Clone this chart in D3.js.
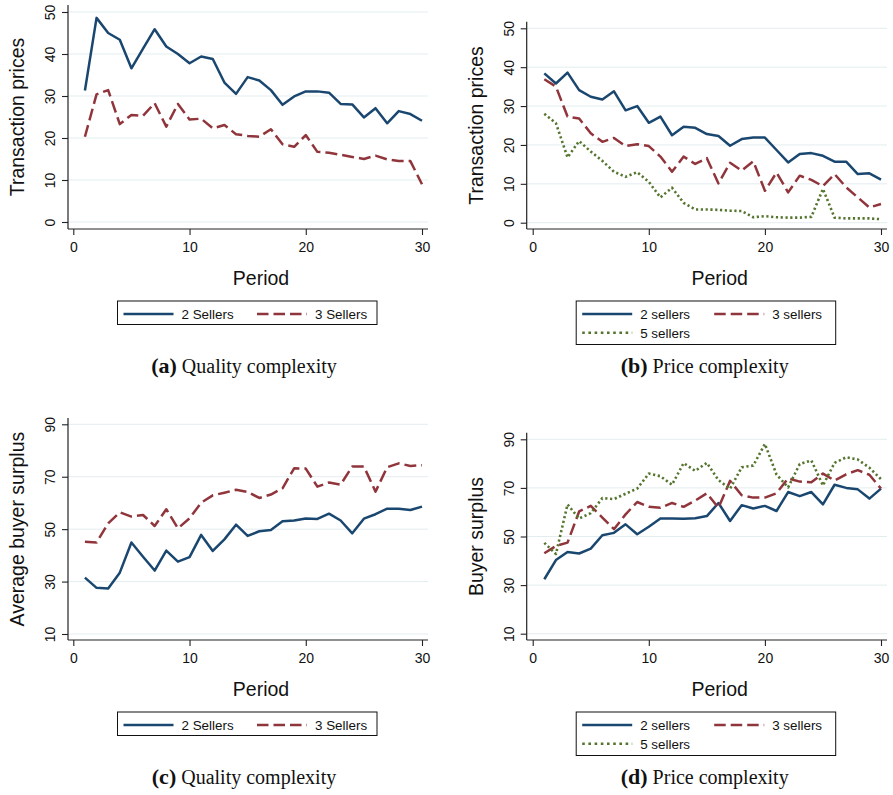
<!DOCTYPE html>
<html>
<head>
<meta charset="utf-8">
<script src="https://cdn.jsdelivr.net/npm/d3@7"></script>
<style>
  html, body { margin: 0; padding: 0; background: #fff; }
  svg { display: block; }
</style>
</head>
<body>
<svg id="chart" width="893" height="795"></svg>
<script>
// ---------------- data ----------------
const periods = [1,2,3,4,5,6,7,8,9,10,11,12,13,14,15,16,17,18,19,20,21,22,23,24,25,26,27,28,29,30];

const aPrice2 = [31.3,48.6,45.0,43.4,36.6,41.3,45.9,41.8,40.0,37.8,39.4,38.8,33.2,30.5,34.5,33.7,31.4,27.9,29.9,31.1,31.1,30.8,28.1,28.0,24.9,27.1,23.5,26.4,25.7,24.1];
const aPrice3 = [20.3,30.4,31.4,23.3,25.5,25.3,28.3,22.7,28.1,24.4,24.6,22.3,23.1,20.9,20.5,20.3,22.1,18.5,17.9,20.7,16.7,16.5,16.0,15.5,15.0,15.8,14.9,14.5,14.5,9.0];

const bPrice2 = [38.4,35.8,38.6,34.1,32.4,31.7,33.8,28.9,30.0,25.7,27.3,22.5,24.7,24.4,22.8,22.3,19.8,21.5,21.9,21.9,18.7,15.5,17.7,17.9,17.2,15.7,15.7,12.5,12.7,11.1];
const bPrice3 = [36.9,35.0,27.3,26.8,23.0,20.8,21.8,19.7,20.2,19.7,17.0,13.1,17.0,15.1,16.6,10.1,15.4,13.4,15.8,8.2,12.9,7.8,12.1,11.0,9.4,12.5,9.1,6.5,3.9,4.8];
const bPrice5 = [28.0,25.6,16.8,21.0,18.3,15.9,13.1,11.8,13.0,10.5,6.5,9.0,5.1,3.4,3.4,3.3,3.1,3.0,1.4,1.7,1.4,1.3,1.3,1.5,8.7,1.3,1.1,1.1,1.1,0.9];

const cSurplus2 = [31.5,27.6,27.4,33.4,44.9,39.5,34.2,41.8,37.6,39.3,47.8,41.7,46.1,51.7,47.4,49.2,49.7,53.0,53.3,54.1,53.9,55.9,53.3,48.4,54.0,55.7,57.8,57.8,57.3,58.6];
const cSurplus3 = [45.2,44.9,52.2,56.4,54.8,55.4,51.2,57.6,50.3,54.1,60.1,62.9,63.9,65.0,64.2,61.9,63.2,65.6,73.2,73.1,66.2,67.8,67.0,73.9,73.9,64.3,73.6,75.1,74.1,74.4];

const dSurplus2 = [32.4,40.3,43.6,43.0,45.0,50.5,51.5,55.0,50.9,54.0,57.4,57.4,57.3,57.5,58.4,63.8,56.4,62.9,61.5,62.6,60.5,68.3,66.6,68.3,63.2,71.3,70.0,69.4,65.6,69.7];
const dSurplus3 = [43.1,46.1,47.5,60.3,62.6,57.8,53.0,59.1,64.2,62.2,61.8,63.8,62.2,64.8,67.8,61.8,72.9,67.0,66.0,66.0,67.8,73.9,72.6,72.3,75.9,73.0,75.6,77.3,75.4,69.7];
const dSurplus5 = [47.4,42.8,63.2,57.4,59.6,65.8,65.4,67.6,69.7,75.9,74.8,71.3,80.2,77.0,80.3,73.2,69.6,78.5,79.2,88.1,75.5,70.2,79.8,81.3,71.0,80.3,82.6,81.7,78.3,73.6];

const xTicks = [0, 10, 20, 30];
const yTicksPrice = [0, 10, 20, 30, 40, 50];
const yTicksSurplus = [10, 30, 50, 70, 90];

const qualityLabels = ["2 Sellers", "3 Sellers"];
const priceLabels = ["2 sellers", "3 sellers", "5 sellers"];

const yTitles = ["Transaction prices", "Transaction prices", "Average buyer surplus", "Buyer surplus"];
const xTitle = "Period";
const captionLetters = ["(a)", "(b)", "(c)", "(d)"];
const captionTexts = ["Quality complexity", "Price complexity", "Quality complexity", "Price complexity"];

// ---------------- styles ----------------
const COLORS = ["#1a476f", "#90353b", "#55752f"];
const DASHES = [null, "12,5", "2.2,2.6"];
const LEGEND_DASHES = [null, "11.5,5", "2.6,3.6"];
const SANS = "'Liberation Sans', Arial, Helvetica, sans-serif";
const SERIF = "'Liberation Serif', 'Times New Roman', serif";

const svg = d3.select("#chart");

// panel geometry
const panels = [
  { axisL: 68,    axisR: 428,   x0: 73.3,  x1: 422, yTop: 5,     yBot: 229, yDom: [0,50],  yRng: [222, 12],    yTicks: yTicksPrice,
    series: [aPrice2, aPrice3], labels: qualityLabels, legendTop: 301, legendH: 23.5, capY: 373 },
  { axisL: 526.7, axisR: 887,   x0: 532.7, x1: 881, yTop: 21.7,  yBot: 229, yDom: [0,50],  yRng: [222.7, 28.3], yTicks: yTicksPrice,
    series: [bPrice2, bPrice3, bPrice5], labels: priceLabels, legendTop: 301, legendH: 43.5, capY: 373 },
  { axisL: 68,    axisR: 428,   x0: 73.3,  x1: 422, yTop: 418,   yBot: 640, yDom: [10,90], yRng: [634, 424.3], yTicks: yTicksSurplus,
    series: [cSurplus2, cSurplus3], labels: qualityLabels, legendTop: 712, legendH: 23.5, capY: 784 },
  { axisL: 526.7, axisR: 887,   x0: 532.7, x1: 881, yTop: 432.7, yBot: 640, yDom: [10,90], yRng: [633.7, 439.3], yTicks: yTicksSurplus,
    series: [dSurplus2, dSurplus3, dSurplus5], labels: priceLabels, legendTop: 712, legendH: 43.5, capY: 784 }
];

panels.forEach((p, i) => {
  const g = svg.append("g");
  const x = d3.scaleLinear().domain([0, 30]).range([p.x0, p.x1]);
  const y = d3.scaleLinear().domain(p.yDom).range(p.yRng);

  // grid lines
  g.append("g").selectAll("line").data(p.yTicks).join("line")
    .attr("x1", p.axisL).attr("x2", p.axisR)
    .attr("y1", d => y(d)).attr("y2", d => y(d))
    .attr("stroke", "#e3edf0").attr("stroke-width", 1);

  // x axis
  const xa = g.append("g").attr("transform", `translate(0,${p.yBot})`)
    .call(d3.axisBottom(x).tickValues(xTicks).tickSize(6).tickSizeOuter(0).tickPadding(7).tickFormat(d3.format("d")));
  xa.select(".domain").remove();
  xa.selectAll(".tick line").attr("stroke", "#222").attr("stroke-width", 1.1);
  xa.selectAll(".tick text").attr("font-family", SANS).attr("font-size", 14).attr("fill", "#111");
  g.append("line").attr("x1", p.axisL).attr("x2", p.axisR).attr("y1", p.yBot).attr("y2", p.yBot)
    .attr("stroke", "#222").attr("stroke-width", 1.2);

  // y axis
  const ya = g.append("g").attr("transform", `translate(${p.axisL},0)`)
    .call(d3.axisLeft(y).tickValues(p.yTicks).tickSize(6).tickSizeOuter(0).tickFormat(d3.format("d")));
  ya.select(".domain").remove();
  ya.selectAll(".tick line").attr("stroke", "#222").attr("stroke-width", 1.1);
  ya.selectAll(".tick text")
    .attr("font-family", SANS).attr("font-size", 14).attr("fill", "#111")
    .attr("x", 0).attr("dy", 0)
    .attr("text-anchor", "middle")
    .attr("transform", "translate(-13,0) rotate(-90)");
  g.append("line").attr("x1", p.axisL).attr("x2", p.axisL).attr("y1", p.yTop).attr("y2", p.yBot)
    .attr("stroke", "#222").attr("stroke-width", 1.2);

  // titles
  const ymid = (p.yRng[0] + p.yRng[1]) / 2;
  g.append("text")
    .attr("transform", `translate(${p.axisL - 44},${ymid}) rotate(-90)`)
    .attr("text-anchor", "middle")
    .attr("font-family", SANS).attr("font-size", 19.5).attr("fill", "#111")
    .text(yTitles[i]);
  g.append("text")
    .attr("x", p.axisL + 193).attr("y", p.yBot + 56)
    .attr("text-anchor", "middle")
    .attr("font-family", SANS).attr("font-size", 19.5).attr("fill", "#111")
    .text(xTitle);

  // lines
  const line = d3.line().x((d, k) => x(periods[k])).y(d => y(d));
  p.series.forEach((s, k) => {
    g.append("path").datum(s)
      .attr("d", line)
      .attr("fill", "none")
      .attr("stroke", COLORS[k])
      .attr("stroke-width", k === 2 ? 2.6 : 2.5)
      .attr("stroke-linejoin", "round")
      .attr("stroke-dasharray", DASHES[k]);
  });

  // legend
  const lx = p.axisL + 49.5;
  const lw = 259.5;
  const lg = g.append("g");
  lg.append("rect").attr("x", lx).attr("y", p.legendTop).attr("width", lw).attr("height", p.legendH)
    .attr("fill", "#fff").attr("stroke", "#111").attr("stroke-width", 1);
  const itemPos = [
    { dx: 6, row: 0 },
    { dx: p.labels.length === 2 ? 139.5 : 138, row: 0 },
    { dx: 6, row: 1 }
  ];
  p.labels.forEach((lab, k) => {
    const ip = itemPos[k];
    const ly = p.legendTop + 13 + ip.row * 18.7;
    lg.append("line")
      .attr("x1", lx + ip.dx).attr("x2", lx + ip.dx + 50)
      .attr("y1", ly).attr("y2", ly)
      .attr("stroke", COLORS[k]).attr("stroke-width", 2.4)
      .attr("stroke-dasharray", LEGEND_DASHES[k]);
    lg.append("text")
      .attr("x", lx + ip.dx + 58).attr("y", ly + 5)
      .attr("font-family", SANS).attr("font-size", 13.4).attr("fill", "#111")
      .text(lab);
  });

  // caption
  const capCx = p.axisL + 176 + (i % 2 === 1 ? 2 : 0);
  const cap = g.append("text")
    .attr("x", capCx).attr("y", p.capY)
    .attr("text-anchor", "middle")
    .attr("font-family", SERIF).attr("fill", "#111");
  cap.append("tspan").attr("font-weight", "bold").attr("font-size", 22).text(captionLetters[i]);
  cap.append("tspan").attr("font-size", 20).text(" " + captionTexts[i]);
});
</script>
</body>
</html>
